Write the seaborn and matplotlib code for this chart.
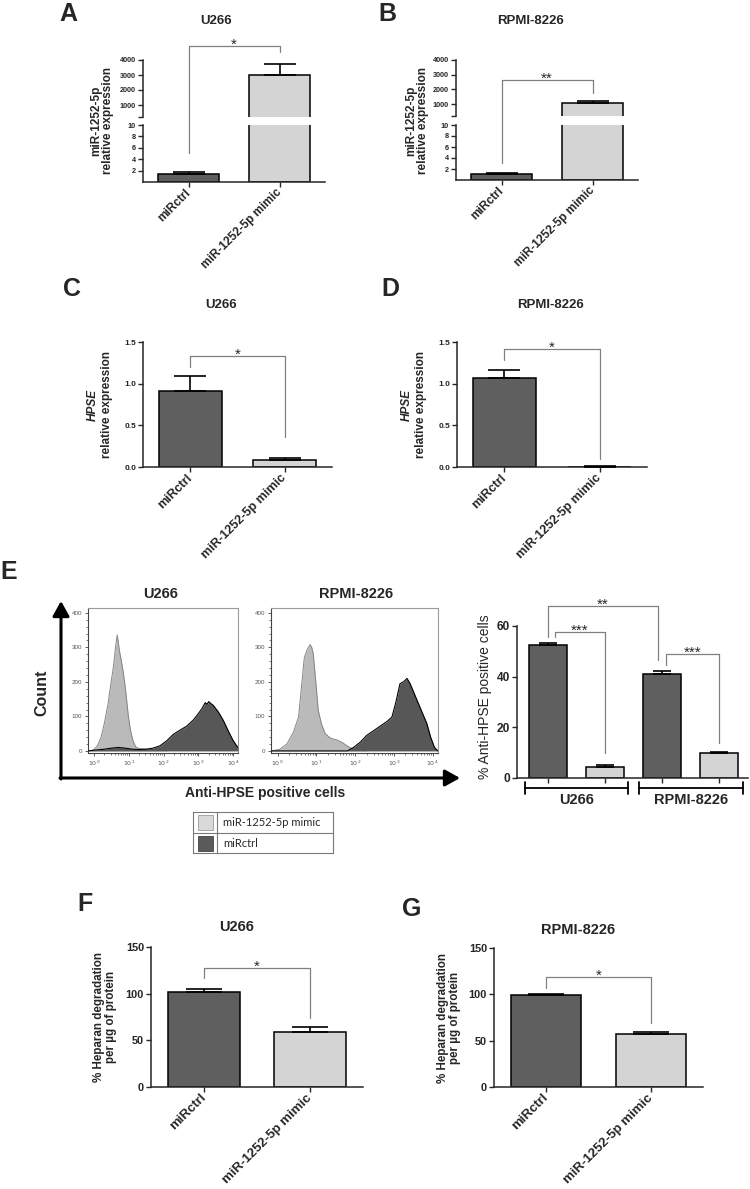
import matplotlib
matplotlib.use("Agg")
import matplotlib.pyplot as plt
import numpy as np
import pandas as pd
import seaborn as sns
from matplotlib.patches import FancyArrowPatch, Rectangle

sns.set_style("ticks")
plt.rcParams["font.family"] = ["Liberation Sans", "DejaVu Sans"]
plt.rcParams["axes.facecolor"] = "none"

W, H = 750, 1189

# ---- data ----
groups = ["miRctrl", "miR-1252-5p mimic"]

# A / B: miR-1252-5p relative expression (mean, upper error)
mir_u266 = [1.35, 3000]
mir_u266_err = [0.45, 750]
mir_rpmi = [1.1, 1050]
mir_rpmi_err = [0.2, 200]

# C / D: HPSE relative expression
hpse_u266 = [0.91, 0.08]
hpse_u266_err = [0.18, 0.025]
hpse_rpmi = [1.07, 0.005]
hpse_rpmi_err = [0.10, 0.003]

# E: % anti-HPSE positive cells
flow_lines = ["U266", "U266", "RPMI-8226", "RPMI-8226"]
flow_treat = ["miRctrl", "miR-1252-5p mimic", "miRctrl", "miR-1252-5p mimic"]
flow_pct = [52.5, 4.5, 41.0, 10.0]
flow_err = [0.8, 0.7, 1.2, 0.4]

# F / G: heparan degradation per ug protein
hep_u266 = [102, 59]
hep_u266_err = [3, 5]
hep_rpmi = [99.5, 57.5]
hep_rpmi_err = [1, 1.5]

# E histograms (log10 fluorescence, count)
u266_mimic_x = [-0.17, -0.1, 0.0, 0.1, 0.2, 0.3, 0.41, 0.48, 0.56, 0.62, 0.67, 0.7, 0.73, 0.78,
                0.84, 0.9, 0.94, 0.99, 1.05, 1.12, 1.2, 1.3, 1.5, 1.8, 2.0, 2.1]
u266_mimic_y = [0, 0, 4, 15, 38, 80, 139, 190, 244, 300, 336, 315, 292, 265,
                230, 185, 148, 100, 60, 30, 12, 7, 5, 4, 2, 0]
u266_ctrl_x = [-0.17, 0.0, 0.3, 0.5, 0.7, 0.9, 1.1, 1.3, 1.5, 1.7, 1.9, 2.1, 2.28, 2.47, 2.67,
               2.86, 3.0, 3.1, 3.2, 3.25, 3.3, 3.35, 3.43, 3.58, 3.72, 3.86, 4.0, 4.1, 4.14]
u266_ctrl_y = [0, 2, 5, 8, 10, 8, 5, 4, 5, 8, 15, 30, 48, 60, 72,
               90, 108, 122, 140, 135, 143, 138, 132, 112, 88, 58, 30, 15, 10]
rpmi_mimic_x = [-0.17, -0.15, 0.06, 0.24, 0.41, 0.54, 0.62, 0.69, 0.77, 0.84, 0.88, 0.92,
                0.99, 1.05, 1.14, 1.23, 1.35, 1.45, 1.53, 1.66, 1.83, 1.96, 2.13, 2.3]
rpmi_mimic_y = [0, 0, 5, 20, 55, 98, 190, 271, 295, 308, 300, 282,
                195, 117, 75, 50, 38, 34, 32, 25, 12, 5, 2, 0]
rpmi_ctrl_x = [-0.17, 1.8, 1.96, 2.13, 2.3, 2.47, 2.65, 2.82, 2.95, 3.05, 3.16, 3.25, 3.34,
               3.42, 3.55, 3.68, 3.85, 3.95, 4.05, 4.14]
rpmi_ctrl_y = [0, 0, 10, 25, 45, 58, 72, 85, 98, 140, 195, 200, 210,
               195, 160, 125, 80, 40, 10, 0]

DARK = "#5f5f5f"
LIGHT = "#d4d4d4"
BRK = "#808080"


def px_rect(l, t, r, b):
    return [l / W, 1 - b / H, (r - l) / W, (b - t) / H]


def fx(x):
    return x / W


def fy(y):
    return 1 - y / H


def draw_bars(ax, labels, vals, errs, colors, capsize):
    df = pd.DataFrame({"grp": labels, "val": vals})
    sns.barplot(data=df, x="grp", y="val", hue="grp", order=labels, hue_order=labels,
                palette=colors, width=0.67, saturation=1, edgecolor="black",
                linewidth=1.1, errorbar=None, legend=False, ax=ax, zorder=2)
    for p in ax.patches:
        p.set_clip_on(True)
    ax.errorbar(np.arange(len(vals)), vals, yerr=[np.zeros(len(vals)), errs], fmt="none",
                ecolor="black", elinewidth=1.2, capsize=capsize, capthick=1.2, zorder=3)
    ax.set_xlabel("")
    ax.set_ylabel("")


def style(ax, yticks, ylabels, tick_fs, xlabels=None, x_fs=8.5):
    sns.despine(ax=ax)
    ax.spines["left"].set_linewidth(1.1)
    ax.spines["bottom"].set_linewidth(1.1)
    ax.tick_params(axis="both", direction="out", length=3.5, width=1.0, pad=1.5)
    ax.set_yticks(yticks, ylabels, fontsize=tick_fs, fontweight="bold")
    if xlabels is not None:
        ax.set_xticks(range(len(xlabels)), xlabels, rotation=45, ha="right", va="center",
                      rotation_mode="anchor", fontsize=x_fs, fontweight="bold")
        ax.tick_params(axis="x", pad=3)


def bracket(ax, x0, x1, y0, y1, ytop, label):
    ax.plot([x0, x0, x1, x1], [y0, ytop, ytop, y1], color=BRK, lw=0.9, clip_on=False, zorder=5)
    ax.annotate(label, xy=((x0 + x1) / 2, ytop), xytext=(0, -2), textcoords="offset points",
                ha="center", va="baseline", fontsize=11, annotation_clip=False)


fig = plt.figure(figsize=(7.5, 11.89), dpi=100)


# ---- A / B : broken axis ----
def broken_panel(rect_top, rect_bot, vals, errs, x_fs):
    ax_t = fig.add_axes(rect_top)
    ax_b = fig.add_axes(rect_bot)
    for ax in (ax_t, ax_b):
        draw_bars(ax, groups, vals, errs, [DARK, LIGHT], 11.5)
        ax.set_xlim(-0.5, 1.5)
    ax_t.set_ylim(200, 4000)
    ax_b.set_ylim(0, 10)
    style(ax_t, [200, 1000, 2000, 3000, 4000], ["", "1000", "2000", "3000", "4000"], 5.2)
    ax_t.spines["bottom"].set_visible(False)
    ax_t.set_xticks([])
    style(ax_b, [2, 4, 6, 8, 10], ["2", "4", "6", "8", "10"], 5.2, groups, x_fs)
    return ax_t, ax_b


axA_t, axA_b = broken_panel(px_rect(143, 60, 325, 117), px_rect(143, 125, 325, 182),
                            mir_u266, mir_u266_err, 8.5)
bracket(axA_b, 0, 1, 5.1, 22.8, 23.9, "*")
axB_t, axB_b = broken_panel(px_rect(456, 60, 638, 116), px_rect(456, 125, 638, 180),
                            mir_rpmi, mir_rpmi_err, 8.5)
bracket(axB_b, 0, 1, 3.1, 15.8, 18.2, "**")

for x in (102, 417):
    fig.text(fx(x), fy(121), "miR-1252-5p\nrelative expression", rotation=90, ha="center",
             va="center", fontsize=8.5, fontweight="bold", linespacing=0.95,
             multialignment="center")

# ---- C / D ----
axC = fig.add_axes(px_rect(143, 342, 332, 467))
draw_bars(axC, groups, hpse_u266, hpse_u266_err, [DARK, LIGHT], 11.5)
axC.set_xlim(-0.5, 1.5)
axC.set_ylim(0, 1.5)
style(axC, [0, 0.5, 1.0, 1.5], ["0.0", "0.5", "1.0", "1.5"], 6, groups, 9)
bracket(axC, 0, 1, 1.2, 0.36, 1.333, "*")

axD = fig.add_axes(px_rect(457, 342, 647, 467))
draw_bars(axD, groups, hpse_rpmi, hpse_rpmi_err, [DARK, LIGHT], 11.5)
axD.set_xlim(-0.5, 1.5)
axD.set_ylim(0, 1.5)
style(axD, [0, 0.5, 1.0, 1.5], ["0.0", "0.5", "1.0", "1.5"], 6, groups, 9)
bracket(axD, 0, 1, 1.28, 0.10, 1.42, "*")

for xh, xr in [(93, 107), (407, 421)]:
    fig.text(fx(xh), fy(405), "HPSE", rotation=90, ha="center", va="center", fontsize=8.5,
             fontweight="bold", fontstyle="italic")
    fig.text(fx(xr), fy(405), "relative expression", rotation=90, ha="center", va="center",
             fontsize=8.5, fontweight="bold")


# ---- E : histograms ----
def draw_hist(ax, lx, ly, dx, dy):
    ax.fill_between(lx, ly, color="#bababa", lw=0, zorder=2)
    sns.lineplot(x=lx, y=ly, ax=ax, color="#858585", lw=0.7, sort=False, estimator=None, zorder=3)
    ax.fill_between(dx, dy, color="#575757", lw=0, zorder=4)
    sns.lineplot(x=dx, y=dy, ax=ax, color="black", lw=0.8, sort=False, estimator=None, zorder=5)
    ax.set_xlim(-0.17, 4.14)
    ax.set_ylim(-6, 414)
    ax.set_xlabel("")
    ax.set_ylabel("")
    ax.set_xticks(range(5), [r"$10^{%d}$" % i for i in range(5)])
    minor = [n + np.log10(k) for n in range(4) for k in range(2, 10)]
    ax.set_xticks(minor, minor=True)
    ax.set_yticks([0, 100, 200, 300, 400])
    ax.set_yticks(np.arange(0, 420, 20), minor=True)
    ax.tick_params(axis="both", which="major", labelsize=4.5, labelcolor="#555555", length=2.2,
                   width=0.6, pad=2, color="#444444")
    ax.tick_params(axis="both", which="minor", length=1.2, width=0.5, color="#444444")
    for s in ["top", "right"]:
        ax.spines[s].set_color("#9a9a9a")
        ax.spines[s].set_linewidth(0.8)
    for s in ["left", "bottom"]:
        ax.spines[s].set_color("#444444")
        ax.spines[s].set_linewidth(0.8)


axH1 = fig.add_axes(px_rect(88, 608, 238, 753))
draw_hist(axH1, u266_mimic_x, u266_mimic_y, u266_ctrl_x, u266_ctrl_y)
axH2 = fig.add_axes(px_rect(271, 608, 438, 753))
draw_hist(axH2, rpmi_mimic_x, rpmi_mimic_y, rpmi_ctrl_x, rpmi_ctrl_y)

fig.text(fx(161), fy(594), "U266", ha="center", va="center", fontsize=10.5, fontweight="bold")
fig.text(fx(356), fy(594), "RPMI-8226", ha="center", va="center", fontsize=10.5,
         fontweight="bold")

arr_kw = dict(transform=fig.transFigure, arrowstyle="-|>,head_length=0.9,head_width=0.5",
              mutation_scale=10, lw=2.2, color="black", shrinkA=0, shrinkB=0)
fig.add_artist(FancyArrowPatch((fx(61), fy(779)), (fx(61), fy(601)), **arr_kw))
fig.add_artist(FancyArrowPatch((fx(60), fy(778)), (fx(460), fy(778)), **arr_kw))
fig.text(fx(42), fy(693), "Count", rotation=90, ha="center", va="center", fontsize=11.5,
         fontweight="bold")
fig.text(fx(265), fy(793), "Anti-HPSE positive cells", ha="center", va="center", fontsize=10,
         fontweight="bold")

# legend box
axL = fig.add_axes(px_rect(193, 812, 333, 853))
axL.set_xlim(0, 140)
axL.set_ylim(41, 0)
axL.set_xticks([])
axL.set_yticks([])
for s in axL.spines.values():
    s.set_color("#7a7a7a")
    s.set_linewidth(0.8)
axL.axvline(24, color="#7a7a7a", lw=0.8)
axL.axhline(20.5, color="#7a7a7a", lw=0.8)
axL.add_patch(Rectangle((4.5, 3), 15, 15, facecolor="#d9d9d9", edgecolor="#9a9a9a", lw=0.6))
axL.add_patch(Rectangle((4.5, 23.5), 15, 15, facecolor="#5a5a5a", edgecolor="#444444", lw=0.6))
axL.text(30, 11, groups[1], va="center", ha="left", fontsize=8, family=["Lato", "DejaVu Sans"])
axL.text(30, 31.5, groups[0], va="center", ha="left", fontsize=8, family=["Lato", "DejaVu Sans"])

# ---- E : bar chart ----
flow_keys = [f"{a} {b}" for a, b in zip(flow_lines, flow_treat)]
flow_cols = [DARK if t == "miRctrl" else LIGHT for t in flow_treat]
axE = fig.add_axes(px_rect(517, 626, 748, 778))
draw_bars(axE, flow_keys, flow_pct, flow_err, flow_cols, 6.5)
axE.set_xlim(-0.54, 3.51)
axE.set_ylim(0, 60)
style(axE, [0, 20, 40, 60], ["0", "20", "40", "60"], 8.6)
axE.set_xticks(range(4), [""] * 4)
bracket(axE, 0, 1.93, 55.7, 46.6, 67.9, "**")
bracket(axE, 0.12, 1, 55.7, 9.9, 57.6, "***")
bracket(axE, 2.07, 3, 44.6, 13.8, 49.0, "***")
for name, (a, b) in zip(["U266", "RPMI-8226"], [(-0.40, 1.40), (1.60, 3.42)]):
    axE.plot([a, b], [-3.95, -3.95], color="black", lw=1.3, clip_on=False)
    axE.plot([a, a], [-1.6, -6.3], color="black", lw=1.3, clip_on=False)
    axE.plot([b, b], [-1.6, -6.3], color="black", lw=1.3, clip_on=False)
    axE.text((a + b) / 2, -8.6, name, ha="center", va="center", fontsize=10.5,
             fontweight="bold", clip_on=False)
fig.text(fx(485), fy(697), "% Anti-HPSE positive cells", rotation=90, ha="center",
         va="center", fontsize=10)

# ---- F / G ----
axF = fig.add_axes(px_rect(151, 947, 363, 1087))
draw_bars(axF, groups, hep_u266, hep_u266_err, [DARK, LIGHT], 13)
axF.set_xlim(-0.5, 1.5)
axF.set_ylim(0, 150)
style(axF, [0, 50, 100, 150], ["0", "50", "100", "150"], 7.9, groups, 9.5)
bracket(axF, 0, 1, 116.8, 74, 127.5, "*")

axG = fig.add_axes(px_rect(494, 948, 703, 1087))
draw_bars(axG, groups, hep_rpmi, hep_rpmi_err, [DARK, LIGHT], 13)
axG.set_xlim(-0.5, 1.5)
axG.set_ylim(0, 150)
style(axG, [0, 50, 100, 150], ["0", "50", "100", "150"], 7.9, groups, 9.5)
bracket(axG, 0, 1, 106.8, 69, 118.7, "*")

for x, y in [(105, 1017), (449, 1018)]:
    fig.text(fx(x), fy(y), "% Heparan degradation\nper µg of protein", rotation=90,
             ha="center", va="center", fontsize=8.4, fontweight="bold", linespacing=1.1,
             multialignment="center")

# ---- titles and panel letters ----
titles = [("U266", 216, 20.5, 9.5), ("RPMI-8226", 530, 21, 9.5), ("U266", 221, 305, 9.5),
          ("RPMI-8226", 551, 305, 9.5), ("U266", 237, 927, 10.5), ("RPMI-8226", 578, 930, 10.5)]
for t, x, y, fs in titles:
    fig.text(fx(x), fy(y), t, ha="center", va="center", fontsize=fs, fontweight="bold")

letters = [("A", 68, 14), ("B", 387, 14), ("C", 72, 289), ("D", 390, 289), ("E", 9, 572),
           ("F", 85, 904), ("G", 412, 909)]
for t, x, y in letters:
    fig.text(fx(x), fy(y), t, ha="center", va="center", fontsize=18, fontweight="bold")

fig.savefig("out.png", dpi=100, facecolor="white")
